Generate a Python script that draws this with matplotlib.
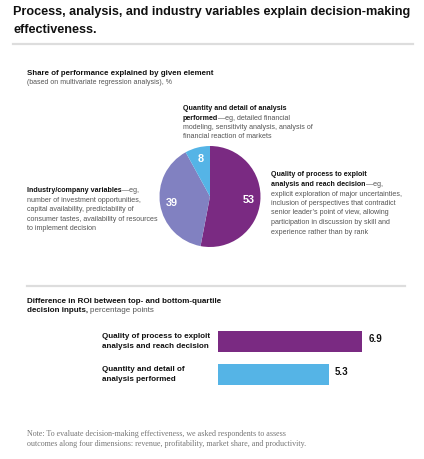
import matplotlib
matplotlib.use("Agg")
import matplotlib.pyplot as plt
from matplotlib.transforms import blended_transform_factory

# data
pie_labels = ["Quality of process", "Industry/company variables", "Quantity and detail of analysis"]
pie_shares = [53, 39, 8]
pie_colors = ["#7a2a82", "#8181c1", "#55b4e6"]

bar_labels = ["Quality of process to exploit\nanalysis and reach decision",
              "Quantity and detail of\nanalysis performed"]
bar_values = [6.9, 5.3]
bar_colors = ["#7a2a82", "#55b4e6"]

W, H = 424, 459
plt.rcParams['font.family'] = ['Liberation Sans', 'DejaVu Sans']

fig = plt.figure(figsize=(W / 100, H / 100), dpi=100)
renderer = fig.canvas.get_renderer()


def fx(x):
    return x / W


def fy(y):
    return 1 - y / H


def rich_line(x, y, parts, size):
    # draw bold + regular pieces one after the other on a baseline (pixel coords, top-left origin)
    for text, weight, color in parts:
        t = fig.text(fx(x), fy(y), text, fontsize=size, fontweight=weight,
                     color=color, va='baseline', ha='left')
        x += t.get_window_extent(renderer).width


DARK = "#111111"
GREY = "#555555"

# title
fig.text(fx(13), fy(15), "Process, analysis, and industry variables explain decision-making",
         fontsize=9.1, fontweight='bold', va='baseline', color=DARK)
fig.text(fx(13), fy(33), "effectiveness.", fontsize=9.1, fontweight='bold',
         va='baseline', color=DARK)
fig.add_artist(plt.Line2D([fx(13), fx(413)], [fy(44), fy(44)], color="#dddddd", lw=1.6))

# pie section headings
fig.text(fx(27), fy(75), "Share of performance explained by given element",
         fontsize=5.7, fontweight='bold', va='baseline', color=DARK)
fig.text(fx(27), fy(84), "(based on multivariate regression analysis), %",
         fontsize=5.0, va='baseline', color=GREY)

sz = 5.1
# top annotation
rich_line(183, 110, [("Quantity and detail of analysis", 'bold', DARK)], sz)
rich_line(183, 119.5, [("performed", 'bold', DARK), ("\u2014eg, detailed financial", 'normal', GREY)], sz)
rich_line(183, 129, [("modeling, sensitivity analysis, analysis of", 'normal', GREY)], sz)
rich_line(183, 138.5, [("financial reaction of markets", 'normal', GREY)], sz)

# right annotation
rich_line(271, 176.5, [("Quality of process to exploit", 'bold', DARK)], sz)
rich_line(271, 186, [("analysis and reach decision", 'bold', DARK), ("\u2014eg,", 'normal', GREY)], sz)
for i, line in enumerate(["explicit exploration of major uncertainties,",
                          "inclusion of perspectives that contradict",
                          "senior leader\u2019s point of view, allowing",
                          "participation in discussion by skill and",
                          "experience rather than by rank"]):
    rich_line(271, 195.5 + 9.5 * i, [(line, 'normal', GREY)], sz)

# left annotation
rich_line(27, 192, [("Industry/company variables", 'bold', DARK), ("\u2014eg,", 'normal', GREY)], sz)
for i, line in enumerate(["number of investment opportunities,",
                          "capital availability, predictability of",
                          "consumer tastes, availability of resources",
                          "to implement decision"]):
    rich_line(27, 201.5 + 9.5 * i, [(line, 'normal', GREY)], sz)

# pie
cx, cy, r = 210, 196.5, 50.5
ax_pie = fig.add_axes([fx(cx - r), fy(cy + r), 2 * r / W, 2 * r / H])
ax_pie.pie(pie_shares, colors=pie_colors, startangle=90, counterclock=False,
           autopct=lambda p: f"{p:.0f}", pctdistance=0.77,
           textprops=dict(color='white', fontweight='bold', fontsize=7.8),
           wedgeprops=dict(linewidth=0))
ax_pie.set_xlim(-1, 1)
ax_pie.set_ylim(-1, 1)
ax_pie.set_aspect('equal')

fig.add_artist(plt.Line2D([fx(27), fx(405)], [fy(285.5), fy(285.5)], color="#dddddd", lw=1.6))

# bar section heading
rich_line(27, 303, [("Difference in ROI between top- and bottom-quartile", 'bold', DARK)], 5.8)
rich_line(27, 312.5, [("decision inputs, ", 'bold', DARK), ("percentage points", 'normal', GREY)], 5.8)

# bars
px_per_unit = 20.9
ax_bar = fig.add_axes([fx(218), fy(396), 190 / W, 76 / H])
pos = list(range(len(bar_values)))
ax_bar.barh(pos, bar_values, height=21 / 33, color=bar_colors, linewidth=0)
ax_bar.set_xlim(0, 190 / px_per_unit)
ax_bar.set_ylim(1 + 21.5 / 33, -21.5 / 33)
ax_bar.axis('off')
for p, v in zip(pos, bar_values):
    ax_bar.text(v + 6 / px_per_unit, p - 0.08, f"{v}", fontsize=7, fontweight='bold',
                va='center', ha='left', color=DARK)
lab_trans = blended_transform_factory(fig.transFigure, ax_bar.transData)
for p, lab in zip(pos, bar_labels):
    ax_bar.text(fx(102), p, lab, transform=lab_trans, fontsize=5.75, fontweight='bold',
                va='center', ha='left', color=DARK, linespacing=1.45)

# note
note_font = ['Liberation Serif', 'DejaVu Serif']
fig.text(fx(27), fy(436), "Note: To evaluate decision-making effectiveness, we asked respondents to assess",
         fontsize=5.75, family=note_font, color="#777777", va='baseline')
fig.text(fx(27), fy(445.5), "outcomes along four dimensions: revenue, profitability, market share, and productivity.",
         fontsize=5.75, family=note_font, color="#777777", va='baseline')

fig.savefig("out.png", dpi=100, facecolor='white')
